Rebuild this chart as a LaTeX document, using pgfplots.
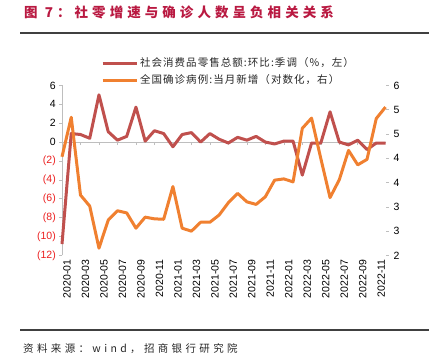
\documentclass[border=0pt]{standalone}
\usepackage{fontspec}
\usepackage{pgfplots}
\pgfplotsset{compat=1.18}
\setmainfont{Liberation Sans}
\newfontfamily\cjk{Noto Sans CJK SC}
\newfontfamily\cjktitle[LetterSpace=30]{Noto Sans CJK SC}
\newfontfamily\cjksrc[LetterSpace=32]{Noto Sans CJK SC}
\newfontfamily\cjkleg[LetterSpace=10]{Noto Sans CJK SC}
\definecolor{redline}{RGB}{192,80,77}
\definecolor{orangeline}{RGB}{240,128,48}
\definecolor{titlered}{RGB}{185,25,65}
\definecolor{negred}{RGB}{235,30,30}
\definecolor{axgray}{RGB}{190,190,190}
\pgfplotstableread{
i v
0 -10.8
1 0.9
2 0.8
3 0.4
4 5.0
5 1.1
6 0.2
7 0.6
8 3.7
9 0.1
10 1.2
11 0.9
12 -0.5
13 0.8
14 1.0
15 0.0
16 0.9
17 0.3
18 -0.1
19 0.5
20 0.2
21 0.6
22 0.0
23 -0.2
24 0.1
25 0.1
26 -3.5
27 -0.1
28 -0.1
29 3.2
30 0.0
31 -0.3
32 0.2
33 -0.8
34 -0.1
35 -0.1
}\retail
\pgfplotstableread{
i v
0 4.32
1 5.25
2 3.42
3 3.16
4 2.17
5 2.83
6 3.05
7 3.00
8 2.64
9 2.90
10 2.86
11 2.85
12 3.62
13 2.64
14 2.57
15 2.78
16 2.78
17 2.95
18 3.24
19 3.46
20 3.26
21 3.20
22 3.38
23 3.77
24 3.80
25 3.73
26 4.99
27 5.23
28 4.28
29 3.36
30 3.78
31 4.47
32 4.13
33 4.26
34 5.22
35 5.49
}\cases
\begin{document}
\begin{tikzpicture}
\path[use as bounding box] (0,0) rectangle (436pt,363pt);
\node[anchor=west, inner sep=0pt, text=titlered] at (24pt,350.5pt) {\cjktitle\bfseries\fontsize{13.5}{15}\selectfont 图 7：社零增速与确诊人数呈负相关关系};
\draw[line width=1.2pt, black!75] (20pt,330pt) -- (429pt,330pt);
\draw[line width=1.2pt, black!75] (20pt,33pt) -- (429pt,33pt);
\node[anchor=west, inner sep=0pt, text=black!85] at (23pt,14pt) {\cjksrc\fontsize{10.5}{12}\selectfont 资料来源：wind，招商银行研究院};
% zero line with ticks
\begin{axis}[at={(62pt,107.6pt)}, anchor=south west, scale only axis,
  width=323.5pt, height=170pt, xmin=0, xmax=35, ymin=-12, ymax=6,
  axis x line=middle, axis y line=none,
  x axis line style={-, axgray, line width=0.8pt},
  xtick={0,2,...,34}, xticklabels={}, tick align=outside,
  major tick length=3pt, tick style={axgray, line width=0.6pt}]
\end{axis}
\begin{axis}[at={(62pt,107.6pt)}, anchor=south west, scale only axis,
  width=323.5pt, height=170pt, xmin=0, xmax=35, ymin=-12, ymax=6,
  clip=false,
  axis x line*=bottom, axis y line*=left,
  x axis line style={draw=none}, y axis line style={-, axgray, line width=0.8pt},
  xtick={0,2,...,34},
  xticklabels={2020-01,2020-03,2020-05,2020-07,2020-09,2020-11,2021-01,2021-03,2021-05,2021-07,2021-09,2021-11,2022-01,2022-03,2022-05,2022-07,2022-09,2022-11},
  x tick style={draw=none},
  xticklabel style={rotate=90, anchor=east, font=\fontsize{10.5}{12}\selectfont, inner sep=1pt, yshift=-5pt},
  ytick={-12,-10,...,6},
  yticklabels={\textcolor{negred}{(12)},\textcolor{negred}{(10)},\textcolor{negred}{(8)},\textcolor{negred}{(6)},\textcolor{negred}{(4)},\textcolor{negred}{(2)},0,2,4,6},
  yticklabel style={font=\fontsize{10.5}{12}\selectfont, inner sep=1pt, xshift=-2pt},
  tick align=outside, major tick length=3pt, y tick style={axgray, line width=0.6pt}]
\addplot[redline, line width=3pt, line join=round] table[x=i,y=v] {\retail};
\end{axis}
\begin{axis}[at={(62pt,107.6pt)}, anchor=south west, scale only axis,
  width=323.5pt, height=170pt, xmin=0, xmax=35, ymin=2, ymax=6,
  clip=false,
  axis x line=none, axis y line*=right,
  y axis line style={draw=none},
  ytick={2,2.571428,3.142857,3.714286,4.285714,4.857143,5.428571,6},
  yticklabels={2,3,3,4,4,5,5,6},
  yticklabel style={font=\fontsize{10.5}{12}\selectfont, inner sep=1pt, xshift=4pt},
  tick align=outside, major tick length=3pt, y tick style={axgray, line width=0.6pt},
  legend style={at={(axis description cs:0.12,1.175)}, anchor=north west, draw=none, fill=none,
    font=\cjkleg\fontsize{10.5}{12}\selectfont, text=black!85, row sep=2.5pt, inner sep=0pt},
  legend cell align=left,
  legend image code/.code={\draw[#1] (0pt,0pt) -- (34pt,0pt);}]
\addlegendimage{redline, line width=3pt}
\addlegendentry{社会消费品零售总额:环比:季调（\%，左）}
\addplot[orangeline, line width=3pt, line join=round] table[x=i,y=v] {\cases};
\addlegendentry{全国确诊病例:当月新增（对数化，右）}
\end{axis}
\end{tikzpicture}
\end{document}
